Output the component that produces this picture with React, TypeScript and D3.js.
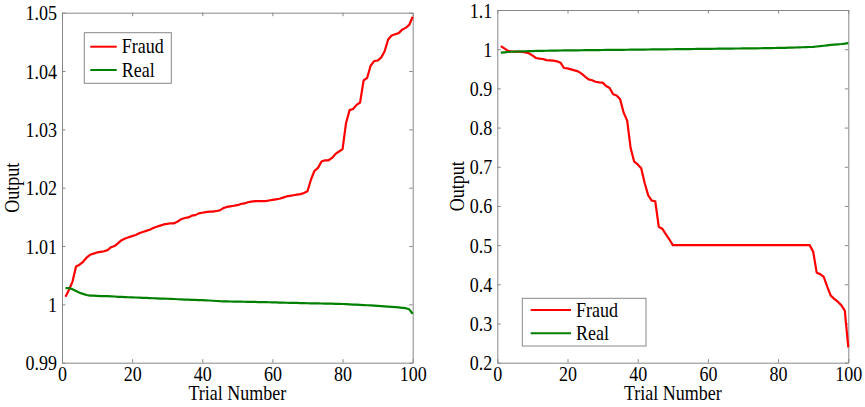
import { useEffect, useRef } from 'react';
import * as d3 from 'd3';

const width = 865;
const height = 407;

// x ticks shared by both panels
const xTicks = [0, 20, 40, 60, 80, 100];
const leftYTicks = [0.99, 1, 1.01, 1.02, 1.03, 1.04, 1.05];
const rightYTicks = [0.2, 0.3, 0.4, 0.5, 0.6, 0.7, 0.8, 0.9, 1, 1.1];
const seriesNames = ['Fraud', 'Real'];

// left panel, trials 1..100
const fraudLeft = [
    1.0013, 1.0025, 1.0039, 1.0065, 1.0068, 1.0073, 1.008, 1.0085, 1.0087, 1.0089,
    1.009, 1.0091, 1.0093, 1.0098, 1.01, 1.0105, 1.011, 1.0113, 1.0115, 1.0117,
    1.0119, 1.0122, 1.0124, 1.0126, 1.0128, 1.0131, 1.0133, 1.0135, 1.0137, 1.0138,
    1.0139, 1.0139, 1.0142, 1.0146, 1.0148, 1.0149, 1.0152, 1.0153, 1.0156, 1.0157,
    1.0158, 1.0159, 1.0159, 1.016, 1.0161, 1.0165, 1.0167, 1.0168, 1.0169, 1.017,
    1.0172, 1.0173, 1.0175, 1.0176, 1.0177, 1.0177, 1.0177, 1.0177, 1.0178, 1.0179,
    1.018, 1.0181, 1.0183, 1.0185, 1.0186, 1.0187, 1.0188, 1.0189, 1.0191, 1.0194,
    1.0214, 1.0229, 1.0234, 1.0245, 1.0247, 1.0247, 1.0251, 1.0258, 1.0262, 1.0266,
    1.0311, 1.0333, 1.0335, 1.0342, 1.0346, 1.0384, 1.0388, 1.0409, 1.0417, 1.0418,
    1.0423, 1.0434, 1.0454, 1.0461, 1.0463, 1.0465, 1.0471, 1.0474, 1.0479, 1.0493
];
const realLeft = [
    1.0028, 1.0028, 1.0026, 1.0023, 1.002, 1.0018, 1.0016, 1.0015, 1.0015, 1.00145,
    1.0014, 1.0014, 1.0014, 1.00138, 1.00135, 1.0013, 1.00128, 1.00125, 1.00122, 1.0012,
    1.00118, 1.00115, 1.00112, 1.0011, 1.00108, 1.00105, 1.00102, 1.001, 1.00098, 1.00096,
    1.00094, 1.00092, 1.00088, 1.00085, 1.00082, 1.0008, 1.00078, 1.00076, 1.00074, 1.00072,
    1.0007, 1.00066, 1.00062, 1.00058, 1.00054, 1.00052, 1.0005, 1.00049, 1.00048, 1.00047,
    1.00046, 1.00045, 1.00044, 1.00043, 1.00042, 1.0004, 1.00039, 1.00037, 1.00036, 1.00035,
    1.00033, 1.00031, 1.0003, 1.00028, 1.00026, 1.00025, 1.00024, 1.00022, 1.0002, 1.00019,
    1.00018, 1.00017, 1.00016, 1.00015, 1.00014, 1.00013, 1.00012, 1.0001, 1.00008, 1.00006,
    1.00003, 1.0, 0.99997, 0.99994, 0.99991, 0.99988, 0.99985, 0.99982, 0.99978, 0.99974,
    0.9997, 0.99966, 0.99962, 0.99958, 0.99953, 0.99947, 0.99941, 0.99934, 0.99915, 0.9984
];

// right panel, trials 1..100
const fraudRight = [
    1.008, 1.002, 0.996, 0.9945, 0.994, 0.994, 0.993, 0.992, 0.9895, 0.984,
    0.9775, 0.976, 0.975, 0.972, 0.9716, 0.9707, 0.969, 0.9656, 0.952, 0.951,
    0.9486, 0.946, 0.9435, 0.9376, 0.93, 0.923, 0.9206, 0.917, 0.9155, 0.9146,
    0.906, 0.901, 0.885, 0.882, 0.872, 0.838, 0.8177, 0.747, 0.713, 0.706,
    0.696, 0.658, 0.627, 0.6135, 0.612, 0.547, 0.542, 0.528, 0.515, 0.5,
    0.5, 0.5, 0.5, 0.5, 0.5, 0.5, 0.5, 0.5, 0.5, 0.5,
    0.5, 0.5, 0.5, 0.5, 0.5, 0.5, 0.5, 0.5, 0.5, 0.5,
    0.5, 0.5, 0.5, 0.5, 0.5, 0.5, 0.5, 0.5, 0.5, 0.5,
    0.5, 0.5, 0.5, 0.5, 0.5, 0.5, 0.5, 0.5, 0.5, 0.483,
    0.4297, 0.426, 0.419, 0.394, 0.371, 0.363, 0.3556, 0.347, 0.3327, 0.239
];
const realRight = [
    0.991, 0.992, 0.9928, 0.9934, 0.9938, 0.9941, 0.9944, 0.9947, 0.995, 0.9953,
    0.9955, 0.9957, 0.9959, 0.996, 0.9962, 0.9963, 0.9965, 0.9966, 0.9968, 0.9969,
    0.997, 0.9971, 0.9972, 0.9973, 0.9974, 0.9975, 0.9976, 0.9977, 0.9978, 0.9979,
    0.998, 0.9981, 0.9982, 0.9983, 0.9984, 0.9985, 0.9986, 0.9987, 0.9988, 0.9989,
    0.999, 0.9991, 0.9992, 0.9993, 0.9994, 0.9995, 0.9996, 0.9997, 0.9998, 0.9999,
    1.0, 1.0001, 1.0002, 1.0003, 1.0004, 1.0005, 1.0006, 1.0007, 1.0008, 1.0009,
    1.001, 1.0011, 1.0012, 1.0013, 1.0014, 1.0015, 1.0016, 1.0017, 1.0018, 1.0019,
    1.002, 1.0021, 1.0022, 1.0023, 1.0024, 1.0025, 1.0026, 1.0028, 1.003, 1.0032,
    1.0034, 1.0036, 1.0038, 1.004, 1.0043, 1.0046, 1.0049, 1.0052, 1.0056, 1.006,
    1.0068, 1.0078, 1.0088, 1.0098, 1.0108, 1.0116, 1.0124, 1.0132, 1.0142, 1.0155
];

const font = '"Liberation Serif", "Times New Roman", serif';
const fontSize = 20;
const squeeze = 0.9; // 원본 글자가 세로로 길쭉해서 가로만 줄임
const frameColor = '#888888';
const colors = ['#ff0000', '#008000'];

const panels = [
    {
        box: [62, 12.7, 412.7, 362.7],
        yDomain: [0.99, 1.05],
        yTicks: leftYTicks,
        series: [fraudLeft, realLeft],
        legend: { x: 84.3, y: 32.7, w: 87, h: 50.6, lx0: 90.3, lx1: 116.7, ly: [46.7, 70], tx: 121.7 },
        ylabelX: 19.3
    },
    {
        box: [497.3, 10, 848.3, 362.7],
        yDomain: [0.2, 1.1],
        yTicks: rightYTicks,
        series: [fraudRight, realRight],
        legend: { x: 522.3, y: 298.3, w: 123.7, h: 47.7, lx0: 530.7, lx1: 571, ly: [310, 333.3], tx: 576 },
        ylabelX: 463.7
    }
];

function addText(svg, x, y, str, anchor = 'start', rotate = 0) {
    svg.append('text')
        .attr('transform', `translate(${x},${y}) rotate(${rotate}) scale(${squeeze},1)`)
        .attr('text-anchor', anchor)
        .attr('font-size', fontSize)
        .attr('fill', '#000')
        .text(str);
}

export default function App() {
    const chart = useRef(null);

    useEffect(() => {
        const root = d3.select(chart.current);
        root.selectAll('*').remove();

        const svg = root
            .append('svg')
            .attr('width', width)
            .attr('height', height)
            .attr('viewBox', [0, 0, width, height])
            .style('background', '#fff')
            .attr('font-family', font);

        panels.forEach((p) => {
            const [x0, y0, x1, y1] = p.box;
            const x = d3.scaleLinear().domain([0, 100]).range([x0, x1]);
            const y = d3.scaleLinear().domain(p.yDomain).range([y1, y0]);
            const fmt = (d) => String(+d.toFixed(2));

            // 아래/왼쪽 축 (라벨 있음), 위/오른쪽 축은 눈금만
            const styleAxis = (g) => {
                g.select('.domain').attr('stroke', frameColor);
                g.selectAll('.tick line').attr('stroke', frameColor);
                g.selectAll('.tick text')
                    .attr('fill', '#000')
                    .attr('font-family', font)
                    .attr('font-size', fontSize)
                    .attr('transform', `scale(${squeeze},1)`);
            };

            svg.append('g')
                .attr('transform', `translate(0,${y1})`)
                .call(d3.axisBottom(x).tickValues(xTicks).tickSize(-3.5).tickSizeOuter(0))
                .call(styleAxis)
                .call((g) => g.selectAll('.tick text').attr('y', 18.7).attr('dy', null));

            svg.append('g')
                .attr('transform', `translate(0,${y0})`)
                .call(d3.axisTop(x).tickValues(xTicks).tickSize(-3.5).tickSizeOuter(0).tickFormat(() => ''))
                .call(styleAxis);

            svg.append('g')
                .attr('transform', `translate(${x0},0)`)
                .call(d3.axisLeft(y).tickValues(p.yTicks).tickSize(-3.5).tickSizeOuter(0).tickFormat(fmt))
                .call(styleAxis)
                .call((g) => g.selectAll('.tick text').attr('x', -5 / squeeze).attr('dy', '0.35em'));

            svg.append('g')
                .attr('transform', `translate(${x1},0)`)
                .call(d3.axisRight(y).tickValues(p.yTicks).tickSize(-3.5).tickSizeOuter(0).tickFormat(() => ''))
                .call(styleAxis);

            // 라인
            const line = d3
                .line()
                .x((_d, i) => x(i + 1))
                .y((d) => y(d));

            p.series.forEach((s, k) => {
                svg.append('path')
                    .attr('fill', 'none')
                    .attr('stroke', colors[k])
                    .attr('stroke-width', 2.2)
                    .attr('stroke-linejoin', 'round')
                    .attr('d', line(s));
            });

            // 축 제목
            addText(svg, (x0 + x1) / 2, 400, 'Trial Number', 'middle');
            addText(svg, p.ylabelX, (y0 + y1) / 2, 'Output', 'middle', -90);

            // 범례
            const lg = p.legend;
            svg.append('rect')
                .attr('x', lg.x)
                .attr('y', lg.y)
                .attr('width', lg.w)
                .attr('height', lg.h)
                .attr('fill', '#fff')
                .attr('stroke', frameColor);

            seriesNames.forEach((name, k) => {
                svg.append('line')
                    .attr('x1', lg.lx0)
                    .attr('x2', lg.lx1)
                    .attr('y1', lg.ly[k])
                    .attr('y2', lg.ly[k])
                    .attr('stroke', colors[k])
                    .attr('stroke-width', 2);
                addText(svg, lg.tx, lg.ly[k] + 6.6, name);
            });
        });
    }, []);

    return <div style={{ position: 'absolute', left: 0, top: 0 }} ref={chart} />;
}
